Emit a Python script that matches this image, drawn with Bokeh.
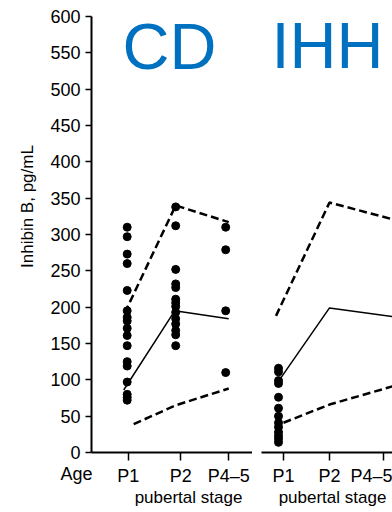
import math
from bokeh.plotting import figure
from bokeh.layouts import row
from bokeh.models import Range1d, FixedTicker, Label
from bokeh.embed import file_html
from bokeh.resources import INLINE

FONT = "Liberation Sans"
BLUE = "#0070C0"

stages = ["P1", "P2", "P4\u20135"]
y_ticks = list(range(0, 601, 50))

# ---- CD panel data ----
cd_stage_x = [1.0, 1.97, 2.97]
cd_tick_x = [1.02, 2.07, 3.03]
cd_p1 = [310, 297, 273, 260, 223, 195, 186, 181, 171, 161, 147, 125, 119, 97, 80, 76, 72]
cd_p2 = [338, 312, 252, 232, 227, 211, 206, 201, 193, 184, 177, 168, 162, 147]
cd_p45 = [310, 279, 195, 110]
cd_upper_x = [0.95, 1.97, 3.03]
cd_upper_y = [192, 340, 317]
cd_mid_x = [0.93, 1.95, 3.03]
cd_mid_y = [86, 195, 184]
cd_lower_x = [1.13, 1.97, 3.03]
cd_lower_y = [39, 65, 88]

# ---- IHH panel data ----
ihh_stage_x = [1.0, 2.02, 3.1]
ihh_tick_x = [1.1, 2.02, 3.1]
ihh_p1 = [116, 111, 99, 95, 76, 61, 50, 41, 35, 28, 23, 19, 14]
ihh_upper_x = [0.95, 2.02, 3.28]
ihh_upper_y = [188, 344, 321]
ihh_mid_x = [1.04, 2.02, 3.28]
ihh_mid_y = [102, 199, 187]
ihh_lower_x = [1.1, 2.02, 3.28]
ihh_lower_y = [41, 66, 91]

H = 510
Y_RANGE = (-79.8, 622.0)


def make_fig(width, x_range, ticks_x, axis_bounds):
    p = figure(width=width, height=H, x_range=Range1d(*x_range),
               y_range=Range1d(*Y_RANGE), output_backend="svg",
               toolbar_location=None, min_border=0, min_border_left=0,
               min_border_right=0, min_border_top=0, min_border_bottom=0)
    p.outline_line_color = None
    p.xgrid.visible = False
    p.ygrid.visible = False
    ax = p.xaxis[0]
    ax.fixed_location = 0
    ax.bounds = axis_bounds
    ax.ticker = FixedTicker(ticks=ticks_x)
    ax.major_label_overrides = {t: l for t, l in zip(ticks_x, stages)}
    ax.axis_line_width = 2
    ax.axis_line_color = "black"
    ax.major_tick_line_width = 1.5
    ax.major_tick_line_color = "black"
    ax.major_tick_out = 8
    ax.major_tick_in = 0
    ax.minor_tick_line_color = None
    ax.major_label_standoff = 5
    ax.major_label_text_font = FONT
    ax.major_label_text_font_size = "18px"
    ax.major_label_text_color = "black"
    return p


def text(p, x, y, s, size="17px", color="black", align="center",
         baseline="alphabetic", angle=0.0):
    p.add_layout(Label(x=x, y=y, text=s, text_font=FONT, text_font_size=size,
                       text_color=color, text_align=align,
                       text_baseline=baseline, angle=angle))


def dots(p, xs, groups):
    px, py = [], []
    for x, g in zip(xs, groups):
        px += [x] * len(g)
        py += g
    p.scatter(px, py, size=8, color="black")


# ---- Figure 1 (CD) ----
p1 = make_fig(252, (-1.534, 3.506), cd_tick_x, (0.286, 3.506))
ya = p1.yaxis[0]
ya.fixed_location = 0.286
ya.bounds = (0, 600)
ya.ticker = FixedTicker(ticks=y_ticks)
ya.axis_line_width = 2
ya.axis_line_color = "black"
ya.major_tick_line_width = 1.5
ya.major_tick_line_color = "black"
ya.major_tick_out = 6
ya.major_tick_in = 0
ya.minor_tick_line_color = None
ya.major_label_standoff = 5
ya.major_label_text_font = FONT
ya.major_label_text_font_size = "18px"
ya.major_label_text_color = "black"

dots(p1, cd_stage_x, [cd_p1, cd_p2, cd_p45])
p1.line(cd_upper_x, cd_upper_y, line_width=2.5, line_dash="8 4", color="black")
p1.line(cd_mid_x, cd_mid_y, line_width=1.5, color="black")
p1.line(cd_lower_x, cd_lower_y, line_width=2.5, line_dash="8 4", color="black")

text(p1, 0.906, 558.7, "CD", size="65px", color=BLUE, align="left")
text(p1, -0.014, -29.3, "Age", size="18px")
text(p1, 2.226, -61.5, "pubertal stage")
text(p1, -0.994, 338.5, "Inhibin B, pg/mL", baseline="middle", angle=math.pi / 2)

# ---- Figure 2 (IHH) ----
p2 = make_fig(140, (0.48, 3.28), ihh_tick_x, (0.66, 3.28))
p2.yaxis.visible = False

dots(p2, ihh_stage_x[:1], [ihh_p1])
p2.line(ihh_upper_x, ihh_upper_y, line_width=2.5, line_dash="8 4", color="black")
p2.line(ihh_mid_x, ihh_mid_y, line_width=1.5, color="black")
p2.line(ihh_lower_x, ihh_lower_y, line_width=2.5, line_dash="8 4", color="black")

text(p2, 0.86, 560, "IHH", size="65px", color=BLUE, align="left")
text(p2, 2.08, -61.5, "pubertal stage")

layout = row(p1, p2)
open("out.html", "w").write(file_html(layout, INLINE))
